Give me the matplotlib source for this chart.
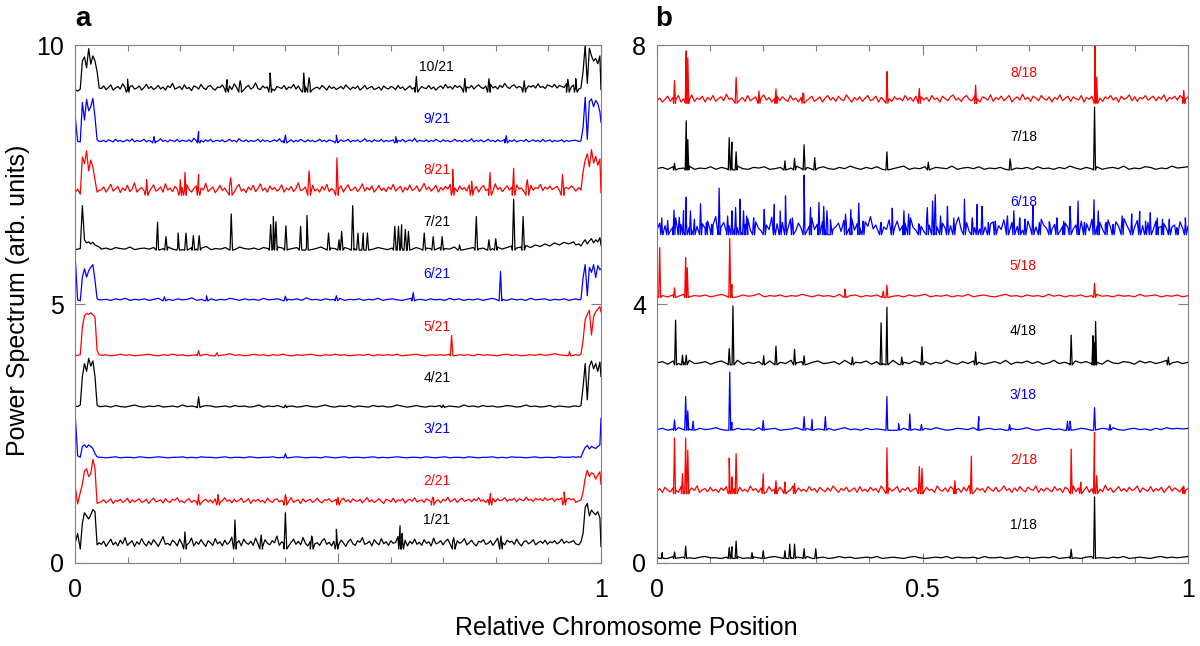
import numpy as np
import matplotlib
matplotlib.use('Agg')
import matplotlib.pyplot as plt
from matplotlib.ticker import MultipleLocator

plt.rcParams['font.family'] = ['Liberation Sans', 'DejaVu Sans']

# ---------------- panel a : chromosome 21 ----------------
labels_a = ['1/21', '2/21', '3/21', '4/21', '5/21', '6/21', '7/21', '8/21', '9/21', '10/21']
colors_a = ['k', 'r', 'b', 'k', 'r', 'b', 'k', 'r', 'b', 'k']
base_a = [0.27, 1.12, 2.03, 3.00, 4.00, 5.06, 6.04, 7.10, 8.11, 9.09]
label_y_a = [0.83, 1.58, 2.59, 3.57, 4.56, 5.58, 6.58, 7.59, 8.57, 9.57]

# positions of the end-region samples (relative position)
edge_left_x = [0, 0.005, 0.01, 0.014, 0.018, 0.022, 0.026, 0.03, 0.034, 0.038, 0.042, 0.046]
edge_right_x = [0.952, 0.958, 0.962, 0.966, 0.97, 0.974, 0.978, 0.982, 0.986, 0.99, 0.994, 0.998, 1.0]
mid_span_a = (0.05, 0.948)

# values in hundredths above each series' baseline
left_a = [
    [10, 30, 0, 50, 70, 64, 58, 66, 76, 72, 8, 12],
    [39, 2, 24, 40, 65, 70, 55, 60, 88, 70, 3, 5],
    [91, 4, 1, 22, 25, 20, 25, 22, 18, 8, 2, 1],
    [3, 2, 5, 60, 85, 70, 95, 80, 90, 60, 5, 2],
    [0, 1, 2, 55, 78, 82, 80, 83, 79, 75, 10, 2],
    [92, 2, 0, 46, 62, 46, 58, 65, 70, 40, 4, 2],
    [0, 2, 3, 86, 20, 14, 16, 12, 15, 10, 8, 6],
    [5, 12, 2, 74, 61, 86, 47, 68, 54, 30, 6, 10],
    [55, 3, 2, 78, 44, 84, 62, 70, 86, 50, 6, 3],
    [5, 2, 6, 60, 68, 47, 84, 54, 70, 60, 40, 8],
]
right_a = [
    [10, 8, 14, 30, 80, 88, 64, 75, 70, 66, 72, 60, 5],
    [5, 8, 10, 25, 52, 67, 55, 62, 60, 50, 58, 64, 40],
    [1, 2, 1, 12, 20, 24, 17, 22, 20, 18, 22, 25, 76],
    [3, 2, 4, 40, 85, 15, 80, 90, 75, 85, 70, 88, 60],
    [2, 1, 3, 30, 70, 80, 88, 40, 75, 85, 90, 95, 85],
    [4, 2, 3, 45, 70, 10, 65, 55, 70, 45, 68, 60, 62],
    [10, 12, 8, 15, 20, 12, 18, 22, 14, 20, 16, 24, 10],
    [8, 15, 10, 45, 68, 80, 55, 88, 62, 75, 58, 70, 5],
    [5, 3, 4, 30, 88, 7, 80, 85, 70, 82, 76, 60, 40],
    [10, 6, 8, 40, 91, 17, 85, 70, 60, 65, 55, 70, 5],
]
noise_a = [
    [9, 15, 5, 12, 19, 8, 13, 6, 17, 10, 22, 7, 12, 16, 5, 14, 9, 20, 11, 6, 15, 8, 18, 12, 5, 14, 24, 9, 11, 7, 17, 13, 6, 19, 10, 15, 8, 12, 21, 6, 14, 9, 18, 11, 5, 16, 12, 7, 20, 10,
     14, 6, 17, 9, 13, 23, 8, 11, 16, 6, 19, 12, 9, 15, 7, 21, 10, 13, 5, 18, 11, 8, 16, 12, 25, 7, 14, 10, 17, 6, 13, 19, 9, 15, 8, 22, 11, 6, 14, 18, 10, 12, 7, 16, 20, 9, 13, 6, 15, 11,
     8, 17, 12, 5, 14, 19, 10, 7, 16, 13, 22, 9, 11, 15, 6, 18, 12, 8, 20, 10, 14, 7, 16, 11, 13, 24, 8, 12, 17, 6, 15, 10, 19, 9, 13, 7, 18, 11, 14, 6, 21, 10, 12, 16, 8, 15, 19, 9, 13, 7,
     16, 11, 14, 20, 8, 12, 17, 10, 6, 15, 13, 18, 9, 11, 16, 7, 14, 21, 10, 12, 8, 17, 13, 15, 9, 19, 11, 6, 14, 16, 10, 13, 18, 8, 12, 15, 11, 17, 9, 14, 12, 16, 10, 13, 19, 11, 15, 12, 14, 16],
    [6, 10, 4, 8, 12, 3, 9, 7, 11, 5, 8, 13, 4, 10, 6, 9, 12, 5, 7, 11, 3, 9, 13, 6, 8, 10, 4, 12, 7, 5, 11, 9, 14, 6, 8, 4, 10, 12, 5, 9, 7, 13, 3, 8, 11, 6, 10, 4, 12, 9,
     5, 8, 14, 7, 10, 4, 11, 6, 9, 13, 5, 8, 12, 3, 10, 7, 11, 6, 9, 4, 13, 8, 5, 10, 12, 6, 9, 4, 11, 7, 14, 5, 8, 10, 3, 12, 6, 9, 11, 5, 8, 13, 7, 4, 10, 9, 12, 6, 8, 11,
     4, 9, 13, 6, 10, 5, 12, 8, 7, 11, 4, 9, 14, 6, 10, 5, 8, 12, 7, 3, 11, 9, 6, 13, 5, 10, 8, 12, 4, 9, 11, 7, 14, 6, 8, 10, 5, 12, 9, 6, 13, 7, 10, 4, 11, 8, 15, 6, 9, 12,
     5, 10, 13, 7, 9, 11, 6, 12, 8, 14, 7, 10, 5, 11, 9, 13, 6, 12, 8, 10, 14, 7, 11, 9, 13, 6, 12, 10, 8, 15, 9, 11, 7, 13, 10, 12, 8, 14, 9, 11, 13, 7, 12, 10, 14, 9, 11, 13, 10, 12],
    [1, 0, 1, 2, 0, 1, 1, 0, 2, 1, 0, 1, 2, 1, 0, 1, 1, 2, 0, 1, 0, 2, 1, 1, 0, 1, 2, 0, 1, 1, 0, 2, 1, 0, 1, 1, 2, 0, 1, 0, 1, 2, 1, 0, 1, 1, 0, 2, 1, 0, 1, 2, 0, 1, 1, 0, 1, 2, 0, 1, 0, 1, 2, 1, 0, 1, 1, 0, 2, 1, 0, 1, 2, 0, 1, 1, 0, 2, 1, 0, 1, 1, 2, 0, 1, 0, 2, 1, 1, 0, 1, 2, 0, 1, 1, 0, 2, 1, 1, 2],
    [2, 3, 1, 4, 2, 1, 3, 5, 2, 1, 3, 2, 4, 1, 2, 3, 1, 5, 2, 3, 1, 2, 4, 3, 1, 2, 3, 1, 4, 2, 3, 1, 2, 5, 1, 3, 2, 4, 1, 2, 3, 1, 2, 4, 2, 1, 3, 5, 2, 1, 3, 2, 4, 1, 3, 2, 1, 4, 2, 3, 1, 2, 5, 3, 1, 2, 4, 2, 1, 3, 2, 4, 1, 3, 2, 1, 5, 2, 3, 1, 4, 2, 3, 1, 2, 4, 3, 1, 2, 5, 2, 3, 1, 2, 4, 1, 3, 2, 1, 3],
    [1, 2, 0, 1, 3, 1, 2, 0, 1, 2, 3, 1, 0, 2, 1, 3, 1, 2, 0, 1, 2, 1, 3, 0, 2, 1, 2, 4, 1, 2, 0, 1, 3, 1, 2, 0, 2, 1, 3, 1, 0, 2, 1, 2, 3, 1, 0, 2, 1, 3, 1, 2, 0, 1, 2, 1, 3, 0, 2, 1, 2, 1, 3, 0, 1, 2, 3, 1, 0, 2, 1, 2, 1, 3, 0, 2, 1, 2, 0, 3, 1, 2, 1, 0, 2, 3, 1, 2, 0, 1, 2, 1, 3, 1, 2, 4, 2, 1, 2, 1],
    [2, 3, 1, 4, 2, 5, 1, 3, 2, 4, 1, 3, 5, 2, 3, 1, 4, 2, 3, 6, 1, 3, 2, 4, 1, 3, 2, 5, 3, 1, 4, 2, 3, 1, 5, 2, 3, 4, 1, 3, 2, 4, 1, 6, 2, 3, 1, 4, 2, 3, 5, 1, 3, 2, 4, 1, 3, 2, 5, 1, 3, 4, 2, 1, 3, 5, 2, 3, 1, 4, 2, 3, 1, 5, 2, 4, 1, 3, 2, 4, 1, 3, 5, 2, 3, 1, 4, 2, 3, 1, 5, 2, 3, 4, 1, 3, 2, 4, 1, 3],
    [2, 4, 1, 5, 3, 2, 6, 1, 3, 4, 2, 5, 1, 3, 6, 2, 4, 1, 3, 5, 2, 4, 7, 1, 3, 2, 5, 4, 1, 6, 3, 2, 4, 1, 5, 3, 2, 6, 4, 1, 3, 5, 2, 4, 1, 3, 6, 2, 4, 3, 1, 5, 2, 3, 6, 1, 4, 2, 5, 3, 1, 4, 2, 6, 3, 1, 5, 2, 4, 3, 1, 5, 3, 2, 6, 4, 1, 3, 5, 2, 4, 1, 3, 6, 2, 5, 8, 4, 6, 9, 5, 10, 7, 12, 8, 14, 10, 15, 12, 16],
    [10, 16, 6, 13, 21, 8, 12, 17, 5, 14, 9, 19, 7, 12, 24, 6, 11, 15, 9, 18, 5, 13, 20, 8, 11, 16, 6, 22, 10, 14, 7, 17, 12, 5, 15, 9, 20, 11, 6, 13, 18, 8, 14, 10, 23, 7, 12, 16, 5, 11,
     19, 9, 14, 7, 17, 11, 6, 15, 21, 8, 12, 5, 16, 10, 19, 7, 13, 22, 9, 14, 6, 18, 11, 15, 8, 12, 20, 6, 14, 10, 17, 7, 13, 24, 9, 11, 16, 5, 15, 19, 8, 12, 6, 17, 10, 21, 7, 13, 9, 15,
     12, 18, 6, 14, 20, 9, 11, 16, 7, 13, 22, 8, 15, 10, 18, 6, 12, 19, 9, 14, 7, 16, 11, 21, 8, 13, 17, 6, 15, 10, 20, 9, 12, 18, 7, 14, 23, 11, 16, 8, 13, 19, 6, 15, 10, 17, 12, 21, 9, 14,
     7, 18, 11, 15, 8, 20, 13, 10, 17, 6, 14, 19, 9, 12, 16, 8, 22, 11, 15, 7, 13, 18, 10, 16, 9, 20, 12, 14, 8, 17, 11, 19, 10, 15, 13, 21, 9, 16, 12, 18, 11, 14, 17, 10, 20, 13, 15, 12, 18, 14],
    [3, 5, 2, 6, 4, 2, 7, 3, 5, 2, 4, 6, 3, 8, 2, 5, 3, 4, 7, 2, 5, 3, 6, 2, 4, 8, 3, 5, 2, 6, 4, 3, 7, 2, 5, 4, 3, 6, 2, 9, 4, 3, 5, 2, 6, 3, 7, 2, 4, 5,
     3, 6, 2, 4, 7, 3, 5, 2, 8, 4, 3, 6, 2, 5, 3, 4, 7, 2, 6, 3, 5, 2, 4, 6, 3, 8, 2, 5, 4, 3, 6, 2, 5, 3, 7, 4, 2, 6, 3, 5, 2, 4, 7, 3, 5, 2, 6, 4, 3, 5,
     2, 6, 3, 4, 7, 2, 5, 3, 6, 2, 4, 8, 3, 5, 2, 6, 4, 3, 7, 2, 5, 3, 4, 6, 2, 5, 3, 7, 2, 4, 6, 3, 9, 2, 5, 4, 3, 6, 2, 5, 3, 7, 4, 2, 6, 3, 5, 2, 4, 7,
     3, 5, 2, 6, 3, 4, 8, 2, 5, 3, 6, 2, 4, 7, 3, 5, 2, 6, 3, 4, 7, 2, 5, 3, 6, 2, 4, 5, 3, 7, 2, 4, 6, 3, 5, 2, 7, 3, 4, 6, 2, 5, 3, 4, 6, 2, 5, 3, 4, 5],
    [7, 12, 5, 9, 14, 4, 8, 11, 6, 16, 9, 3, 10, 13, 6, 8, 12, 4, 9, 15, 7, 11, 5, 8, 13, 6, 10, 4, 12, 9, 17, 6, 8, 11, 5, 14, 7, 9, 3, 12, 10, 6, 15, 8, 5, 11, 13, 7, 4, 10,
     9, 14, 6, 8, 12, 5, 16, 9, 7, 11, 4, 10, 13, 6, 9, 18, 7, 5, 12, 8, 10, 14, 6, 3, 11, 9, 7, 13, 5, 10, 8, 15, 6, 12, 4, 9, 11, 7, 14, 5, 8, 10, 6, 13, 9, 4, 12, 7, 10, 5,
     8, 11, 6, 14, 9, 5, 10, 7, 12, 4, 8, 13, 6, 9, 11, 5, 7, 10, 4, 12, 8, 6, 11, 9, 5, 13, 7, 10, 4, 8, 12, 6, 9, 14, 5, 11, 8, 7, 13, 6, 10, 4, 9, 12, 7, 15, 8, 11, 6, 13,
     9, 12, 7, 16, 10, 8, 13, 6, 11, 14, 9, 7, 12, 10, 15, 8, 11, 6, 13, 9, 17, 10, 7, 12, 14, 8, 11, 9, 15, 6, 12, 10, 13, 8, 16, 9, 11, 7, 14, 12, 10, 15, 8, 13, 11, 9, 16, 12, 10, 14],
]
# isolated peaks: (relative position, height above baseline)
peaks_a = [
    [(0.209, 0.33), (0.304, 0.56), (0.354, 0.27), (0.40, 0.70), (0.45, 0.25), (0.497, 0.38),
     (0.618, 0.45), (0.622, 0.30), (0.72, 0.22), (0.81, 0.25)],
    [(0.235, 0.20), (0.272, 0.20), (0.40, 0.20), (0.50, 0.15), (0.68, 0.15), (0.79, 0.22), (0.93, 0.25)],
    [(0.40, 0.08)],
    [(0.235, 0.21), (0.40, 0.05), (0.70, 0.05)],
    [(0.235, 0.10), (0.27, 0.06), (0.716, 0.39), (0.94, 0.08)],
    [(0.17, 0.08), (0.25, 0.10), (0.40, 0.09), (0.497, 0.10), (0.643, 0.16), (0.809, 0.57)],
    [(0.157, 0.54), (0.173, 0.26), (0.196, 0.33), (0.211, 0.33), (0.225, 0.28), (0.236, 0.28),
     (0.297, 0.70), (0.372, 0.49), (0.377, 0.65), (0.382, 0.55), (0.401, 0.47), (0.429, 0.46),
     (0.441, 0.67), (0.482, 0.33), (0.502, 0.20), (0.507, 0.36), (0.528, 0.86), (0.538, 0.33),
     (0.548, 0.33), (0.556, 0.33), (0.608, 0.46), (0.615, 0.46), (0.621, 0.49), (0.628, 0.40),
     (0.634, 0.36), (0.664, 0.33), (0.681, 0.26), (0.698, 0.26), (0.731, 0.10), (0.763, 0.65),
     (0.787, 0.20), (0.80, 0.22), (0.834, 0.98), (0.852, 0.65)],
    [(0.136, 0.30), (0.20, 0.30), (0.209, 0.44), (0.235, 0.40), (0.296, 0.34), (0.445, 0.47),
     (0.498, 0.72), (0.718, 0.50), (0.754, 0.27), (0.789, 0.44), (0.834, 0.52), (0.86, 0.30),
     (0.927, 0.40)],
    [(0.15, 0.12), (0.235, 0.22), (0.40, 0.15), (0.497, 0.15), (0.61, 0.12), (0.82, 0.14)],
    [(0.10, 0.25), (0.289, 0.24), (0.314, 0.22), (0.371, 0.37), (0.435, 0.37), (0.445, 0.28),
     (0.649, 0.30), (0.741, 0.26), (0.787, 0.26), (0.854, 0.22), (0.937, 0.25), (0.952, 0.26)],
]

# ---------------- panel b : chromosome 18 ----------------
labels_b = ['1/18', '2/18', '3/18', '4/18', '5/18', '6/18', '7/18', '8/18']
colors_b = ['k', 'r', 'b', 'k', 'r', 'b', 'k', 'r']
base_b = [0.07, 1.07, 2.05, 3.06, 4.10, 5.07, 6.07, 7.10]
label_y_b = [0.59, 1.59, 2.59, 3.58, 4.59, 5.58, 6.58, 7.57]
noise_b = [
    [1, 2, 0, 3, 1, 2, 1, 0, 2, 3, 1, 1, 0, 2, 1, 3, 0, 1, 2, 1, 0, 2, 3, 1, 0, 1, 2, 1, 3, 0, 1, 2, 0, 1, 3, 1, 2, 0, 1, 2, 1, 3, 0, 1, 2, 1, 0, 2, 3, 1, 0, 1, 2, 1, 3, 0, 2, 1, 1, 2, 0, 3, 1, 1, 2, 0, 1, 3, 1, 2, 0, 1, 2, 1, 3, 0, 1, 2, 1, 0, 2, 3, 1, 1, 0, 2, 1, 3, 0, 1, 2, 1, 0, 2, 3, 1, 2, 1, 2, 3],
    [4, 8, 2, 10, 5, 3, 9, 6, 2, 11, 4, 7, 3, 9, 5, 12, 2, 6, 8, 3, 10, 4, 7, 2, 9, 5, 11, 3, 6, 8, 2, 10, 4, 7, 3, 12, 5, 8, 2, 9, 6, 3, 11, 4, 7, 2, 10, 5, 8, 3,
     6, 12, 2, 9, 4, 7, 3, 11, 5, 8, 2, 10, 6, 3, 9, 4, 12, 7, 2, 8, 5, 10, 3, 6, 9, 2, 11, 4, 7, 3, 10, 5, 8, 2, 12, 6, 3, 9, 4, 7, 11, 2, 8, 5, 10, 3, 6, 9, 4, 8,
     3, 10, 5, 7, 2, 12, 6, 4, 9, 3, 11, 7, 5, 8, 2, 10, 4, 13, 6, 3, 9, 5, 8, 2, 11, 7, 4, 10, 3, 6, 12, 5, 8, 2, 9, 4, 11, 6, 3, 10, 7, 5, 12, 2, 8, 4, 9, 6, 3, 11,
     5, 8, 2, 10, 7, 4, 12, 3, 9, 6, 5, 11, 2, 8, 4, 10, 7, 3, 13, 5, 9, 2, 6, 11, 4, 8, 3, 10, 5, 7, 12, 2, 9, 6, 4, 11, 3, 8, 5, 10, 2, 7, 12, 4, 9, 6, 3, 10, 5, 8],
    [1, 3, 0, 2, 4, 1, 2, 0, 3, 1, 2, 4, 1, 0, 2, 3, 1, 2, 0, 4, 1, 2, 3, 0, 1, 2, 4, 1, 3, 0, 2, 1, 3, 0, 2, 4, 1, 2, 0, 3, 1, 2, 1, 4, 0, 2, 3, 1, 2, 0, 3, 1, 4, 2, 0, 1, 3, 2, 1, 4, 0, 2, 3, 1, 2, 0, 3, 1, 2, 4, 1, 0, 2, 3, 1, 2, 0, 4, 1, 3, 2, 0, 1, 3, 2, 4, 1, 0, 2, 3, 1, 2, 0, 3, 1, 4, 2, 3, 2, 3],
    [3, 5, 1, 6, 2, 4, 7, 2, 3, 5, 1, 4, 6, 2, 3, 7, 1, 4, 2, 5, 3, 6, 1, 4, 2, 7, 3, 5, 1, 4, 6, 2, 3, 5, 1, 7, 2, 4, 3, 6, 1, 5, 2, 3, 7, 1, 4, 2, 6, 3, 5, 1, 4, 2, 7, 3, 1, 5, 2, 6, 4, 1, 3, 5, 2, 7, 1, 4, 3, 6, 2, 5, 1, 3, 7, 2, 4, 1, 6, 3, 5, 2, 4, 1, 7, 3, 2, 5, 4, 1, 6, 3, 5, 2, 4, 7, 3, 5, 2, 4],
    [2, 3, 1, 4, 2, 5, 1, 3, 2, 4, 1, 3, 5, 2, 3, 1, 4, 2, 3, 6, 1, 3, 2, 4, 1, 3, 2, 5, 3, 1, 4, 2, 3, 1, 5, 2, 3, 4, 1, 3, 2, 4, 1, 6, 2, 3, 1, 4, 2, 3, 5, 1, 3, 2, 4, 1, 3, 2, 5, 1, 3, 4, 2, 1, 3, 5, 2, 3, 1, 4, 2, 3, 1, 5, 2, 4, 1, 3, 2, 4, 1, 3, 5, 2, 3, 1, 4, 2, 3, 1, 5, 2, 3, 4, 1, 3, 2, 4, 1, 3],
    [8, 18, 4, 14, 22, 6, 12, 26, 9, 16, 5, 20, 11, 7, 24, 13, 3, 17, 10, 21, 6, 15, 28, 8, 12, 19, 5, 14, 23, 9, 11, 18, 4, 16, 25, 7, 13, 20, 10, 6, 22, 15, 8, 27, 11, 17, 5, 19, 12, 9,
     24, 14, 6, 18, 10, 21, 4, 13, 26, 8, 16, 11, 20, 7, 15, 23, 9, 12, 18, 5, 22, 14, 10, 25, 7, 17, 11, 6, 20, 13, 28, 9, 15, 4, 19, 12, 8, 23, 16, 10, 21, 6, 14, 18, 9, 26, 11, 7, 17, 13,
     5, 20, 15, 9, 24, 12, 6, 18, 10, 22, 14, 7, 16, 27, 8, 13, 19, 5, 21, 11, 15, 9, 25, 12, 6, 17, 20, 10, 14, 8, 23, 16, 4, 19, 11, 13, 26, 7, 15, 21, 9, 18, 12, 6, 24, 14, 10, 20, 8, 16,
     22, 5, 13, 18, 11, 27, 9, 15, 7, 21, 12, 17, 6, 24, 10, 14, 19, 8, 16, 23, 11, 5, 20, 13, 9, 25, 15, 7, 18, 12, 22, 10, 14, 6, 19, 16, 8, 21, 11, 13, 17, 9, 24, 12, 15, 7, 20, 10, 18, 13],
    [2, 4, 1, 5, 2, 3, 6, 1, 3, 2, 5, 1, 4, 2, 3, 6, 2, 1, 4, 3, 5, 1, 2, 4, 1, 3, 6, 2, 4, 1, 3, 5, 2, 1, 4, 2, 6, 3, 1, 4, 2, 5, 1, 3, 2, 4, 6, 1, 3, 2, 5, 1, 4, 3, 2, 6, 1, 3, 4, 2, 5, 1, 3, 2, 4, 1, 6, 3, 2, 4, 1, 5, 2, 3, 1, 4, 2, 6, 3, 1, 4, 2, 5, 1, 3, 4, 2, 6, 1, 3, 2, 5, 4, 1, 3, 2, 6, 3, 4, 5],
    [4, 8, 2, 6, 11, 3, 9, 5, 12, 2, 7, 10, 4, 13, 3, 8, 6, 11, 2, 9, 5, 12, 3, 7, 10, 4, 14, 6, 8, 2, 11, 5, 9, 3, 12, 4, 7, 10, 3, 8, 13, 5, 9, 2, 7, 11, 4, 10, 6, 3,
     12, 5, 8, 2, 9, 14, 4, 7, 11, 3, 6, 10, 2, 8, 12, 5, 9, 3, 11, 6, 4, 13, 7, 2, 9, 5, 10, 3, 8, 12, 4, 6, 11, 2, 9, 5, 13, 7, 3, 10, 6, 8, 4, 12, 5, 9, 3, 11, 7, 10,
     5, 9, 3, 12, 6, 8, 2, 11, 7, 4, 10, 13, 5, 8, 3, 9, 12, 6, 4, 11, 7, 2, 10, 8, 5, 13, 3, 9, 6, 11, 4, 8, 12, 2, 7, 10, 5, 14, 6, 9, 3, 11, 8, 4, 12, 7, 5, 10, 2, 9,
     6, 13, 4, 8, 11, 3, 10, 7, 5, 12, 2, 9, 6, 11, 4, 14, 8, 3, 10, 7, 12, 5, 9, 2, 11, 6, 8, 13, 4, 10, 3, 9, 7, 12, 5, 8, 11, 4, 10, 6, 13, 3, 9, 7, 11, 5, 12, 8, 6, 10],
]
peaks_b = [
    [(0.01, 0.09), (0.033, 0.10), (0.054, 0.19), (0.136, 0.17), (0.141, 0.18), (0.149, 0.27),
     (0.179, 0.09), (0.20, 0.12), (0.241, 0.12), (0.25, 0.22), (0.259, 0.22), (0.277, 0.15),
     (0.299, 0.15), (0.78, 0.14), (0.824, 0.95)],
    [(0.033, 0.86), (0.048, 0.31), (0.054, 0.86), (0.058, 0.67), (0.136, 0.55), (0.141, 0.26),
     (0.149, 0.62), (0.20, 0.31), (0.224, 0.20), (0.241, 0.18), (0.259, 0.16), (0.433, 0.71),
     (0.494, 0.42), (0.499, 0.39), (0.561, 0.20), (0.592, 0.58), (0.78, 0.69), (0.798, 0.18),
     (0.824, 0.95), (0.828, 0.28), (0.992, 0.12)],
    [(0.033, 0.16), (0.054, 0.52), (0.058, 0.30), (0.068, 0.14), (0.137, 0.90), (0.141, 0.12),
     (0.20, 0.15), (0.277, 0.21), (0.292, 0.17), (0.317, 0.21), (0.433, 0.52), (0.455, 0.10),
     (0.476, 0.25), (0.498, 0.09), (0.606, 0.21), (0.664, 0.09), (0.773, 0.14), (0.778, 0.14),
     (0.824, 0.35), (0.853, 0.09)],
    [(0.035, 0.69), (0.048, 0.15), (0.055, 0.15), (0.136, 0.25), (0.143, 0.91), (0.201, 0.14),
     (0.224, 0.29), (0.259, 0.24), (0.277, 0.14), (0.368, 0.12), (0.422, 0.65), (0.433, 0.89),
     (0.461, 0.12), (0.499, 0.28), (0.60, 0.20), (0.78, 0.46), (0.821, 0.45), (0.823, 0.34),
     (0.826, 0.67), (0.963, 0.12)],
    [(0.005, 0.77), (0.033, 0.15), (0.054, 0.62), (0.057, 0.46), (0.137, 0.91), (0.141, 0.20),
     (0.354, 0.13), (0.426, 0.10), (0.433, 0.19), (0.824, 0.22)],
    [(0.009, 0.26), (0.020, 0.21), (0.032, 0.38), (0.042, 0.27), (0.050, 0.37), (0.055, 0.58),
     (0.063, 0.37), (0.070, 0.19), (0.082, 0.48), (0.093, 0.19), (0.103, 0.16), (0.117, 0.72),
     (0.133, 0.29), (0.141, 0.37), (0.148, 0.42), (0.156, 0.55), (0.163, 0.37), (0.169, 0.29),
     (0.182, 0.26), (0.202, 0.39), (0.221, 0.47), (0.232, 0.37), (0.242, 0.60), (0.255, 0.26),
     (0.277, 0.92), (0.289, 0.42), (0.305, 0.50), (0.314, 0.44), (0.320, 0.37), (0.328, 0.14),
     (0.355, 0.32), (0.365, 0.39), (0.380, 0.49), (0.388, 0.21), (0.421, 0.16), (0.443, 0.41),
     (0.465, 0.37), (0.474, 0.32), (0.494, 0.16), (0.509, 0.42), (0.519, 0.52), (0.524, 0.62),
     (0.534, 0.29), (0.547, 0.44), (0.559, 0.26), (0.579, 0.55), (0.594, 0.26), (0.603, 0.47),
     (0.612, 0.44), (0.624, 0.19), (0.637, 0.21), (0.660, 0.29), (0.672, 0.37), (0.683, 0.26),
     (0.693, 0.24), (0.708, 0.46), (0.720, 0.19), (0.740, 0.16), (0.753, 0.26), (0.766, 0.21),
     (0.778, 0.44), (0.793, 0.52), (0.805, 0.19), (0.823, 0.54), (0.831, 0.37), (0.846, 0.19),
     (0.859, 0.16), (0.876, 0.29), (0.894, 0.32), (0.909, 0.36), (0.920, 0.21), (0.929, 0.34),
     (0.942, 0.26), (0.952, 0.24), (0.965, 0.16), (0.979, 0.11), (0.995, 0.26)],
    [(0.033, 0.10), (0.055, 0.76), (0.058, 0.47), (0.136, 0.50), (0.141, 0.43), (0.149, 0.28),
     (0.241, 0.14), (0.259, 0.18), (0.277, 0.39), (0.297, 0.19), (0.433, 0.28), (0.511, 0.12),
     (0.665, 0.17), (0.824, 0.97)],
    [(0.033, 0.35), (0.055, 0.81), (0.058, 0.70), (0.149, 0.40), (0.192, 0.19), (0.224, 0.22),
     (0.275, 0.16), (0.433, 0.49), (0.494, 0.23), (0.60, 0.28), (0.825, 0.90), (0.828, 0.40),
     (0.992, 0.20)],
]


def series(base, noise, peaks, span, w, left=None, right=None):
    xs = list(np.linspace(span[0], span[1], len(noise)))
    ys = [base + v / 100 for v in noise]
    if left is not None:
        xs += edge_left_x
        ys += [base + v / 100 for v in left]
    if right is not None:
        xs += edge_right_x
        ys += [base + v / 100 for v in right]
    for px, h in peaks:
        xs += [px - w, px, px + w]
        ys += [base, base + h, base]
    xs = np.array(xs)
    ys = np.array(ys)
    order = np.argsort(xs, kind='stable')
    return xs[order], ys[order]


fig = plt.figure(figsize=(12, 6.46), dpi=100)
axa = fig.add_axes([0.0625, 0.1285, 0.4383, 0.8018])
axb = fig.add_axes([0.5475, 0.1285, 0.4425, 0.8018])

col = {'k': '#000000', 'r': '#ff0000', 'b': '#0000ff'}
for i in range(len(labels_a)):
    x, y = series(base_a[i], noise_a[i], peaks_a[i], mid_span_a, 0.0025, left_a[i], right_a[i])
    axa.plot(x, y, color=col[colors_a[i]], lw=0.9)
    axa.text(0.688, label_y_a[i], labels_a[i], color=col[colors_a[i]], fontsize=10,
             ha='center', va='center')

for i in range(len(labels_b)):
    x, y = series(base_b[i], noise_b[i], peaks_b[i], (0.0, 1.0), 0.0018)
    axb.plot(x, y, color=col[colors_b[i]], lw=0.9)
    axb.text(0.69, label_y_b[i], labels_b[i], color=col[colors_b[i]], fontsize=10,
             ha='center', va='center')

for ax, ymax, yt in [(axa, 10, [0, 5, 10]), (axb, 8, [0, 4, 8])]:
    ax.set_xlim(0, 1)
    ax.set_ylim(0, ymax)
    ax.set_xticks([0, 0.5, 1])
    ax.set_xticklabels(['0', '0.5', '1'])
    ax.xaxis.set_minor_locator(MultipleLocator(0.1))
    ax.set_yticks(yt)
    ax.set_yticklabels([str(v) for v in yt])
    ax.tick_params(which='both', direction='in', top=True, right=True, color='#808080',
                   labelsize=18, width=0.8)
    ax.tick_params(which='major', length=7)
    ax.tick_params(axis='x', which='major', pad=11)
    ax.tick_params(axis='y', which='major', pad=8)
    ax.tick_params(which='minor', length=4)
    for s in ax.spines.values():
        s.set_color('#808080')
        s.set_linewidth(0.8)

fig.text(0.069, 0.971, 'a', fontsize=20, fontweight='bold', ha='center', va='center')
fig.text(0.553, 0.971, 'b', fontsize=20, fontweight='bold', ha='center', va='center')
fig.text(0.522, 0.028, 'Relative Chromosome Position', fontsize=18, ha='center', va='center')
fig.text(0.015, 0.535, 'Power Spectrum (arb. units)', fontsize=18, ha='center', va='center',
         rotation=90)

fig.savefig('out.png', dpi=100)
